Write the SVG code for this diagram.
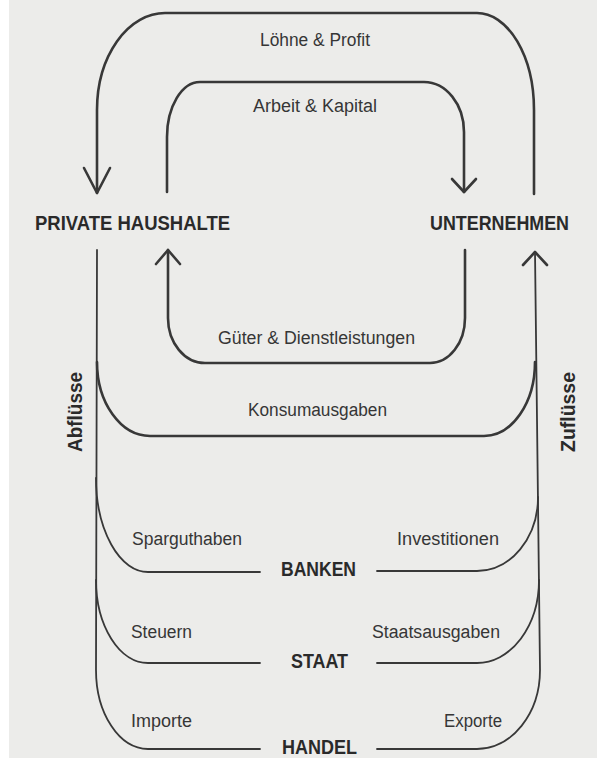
<svg xmlns="http://www.w3.org/2000/svg" width="597" height="758" viewBox="0 0 597 758">
  <style>
    .bg { fill: #ececea; }
    .flow { fill: none; stroke: #383838; stroke-width: 2.6; stroke-linecap: round; stroke-linejoin: round; }
    .thin { fill: none; stroke: #383838; stroke-width: 1.8; stroke-linecap: round; stroke-linejoin: round; }
    .lbl { font-family: "Liberation Sans", Arial, sans-serif; font-size: 18px; fill: #363636; }
    .node { font-family: "Liberation Sans", Arial, sans-serif; font-size: 21px; font-weight: bold; fill: #2a2a2a; }
    .side { font-family: "Liberation Sans", Arial, sans-serif; font-size: 21px; font-weight: bold; fill: #2a2a2a; }
  </style>
  <rect x="0" y="0" width="597" height="758" fill="#ffffff"/>
  <rect class="bg" x="9" y="0" width="588" height="758"/>

  <g id="connectors">
    <!-- Löhne & Profit: Unternehmen -> Private Haushalte -->
    <path class="flow" d="M 534 194 V 110 A 57 97 0 0 0 477 13 H 165 A 68 97 0 0 0 97 110 V 193"/>
    <polyline class="flow" points="84,168 97,193 110,168"/>
    <!-- Arbeit & Kapital: Private Haushalte -> Unternehmen -->
    <path class="flow" d="M 167 192 V 137 A 33 55 0 0 1 200 82 H 424 A 40 50 0 0 1 464 132 V 192"/>
    <polyline class="flow" points="452,179 464,192 476,179"/>
    <!-- Güter & Dienstleistungen: Unternehmen -> Private Haushalte -->
    <path class="flow" d="M 465 250 V 318 A 35 45 0 0 1 430 363 H 205 A 37 45 0 0 1 168 318 V 250"/>
    <polyline class="flow" points="156,264 168,250 180,264"/>
    <!-- Abflüsse: left trunk and Importe -->
    <path class="thin" d="M 97 250 L 96 670 A 52 79 0 0 0 148 749 H 260"/>
    <!-- Konsumausgaben -->
    <path class="flow" d="M 97 362 A 53 74 0 0 0 150 436 H 484 A 51 74 0 0 0 535 362"/>
    <!-- Sparguthaben -->
    <path class="thin" d="M 96 478 A 52 94 0 0 0 148 572 H 260"/>
    <!-- Steuern -->
    <path class="thin" d="M 96 580 A 52 83 0 0 0 148 663 H 260"/>
    <!-- Zuflüsse: right trunk and Exporte -->
    <path class="thin" d="M 535 252 L 540 670 A 63 79 0 0 1 477 749 H 377"/>
    <polyline class="flow" points="523,265 535,252 547,265"/>
    <!-- Investitionen -->
    <path class="thin" d="M 377 571 H 477 A 61 74 0 0 0 538 497"/>
    <!-- Staatsausgaben -->
    <path class="thin" d="M 377 663 H 477 A 62 83 0 0 0 539 580"/>

    <text class="lbl" x="260" y="46" textLength="110" lengthAdjust="spacingAndGlyphs">Löhne &amp; Profit</text>
    <text class="lbl" x="253" y="112" textLength="124" lengthAdjust="spacingAndGlyphs">Arbeit &amp; Kapital</text>
    <text class="lbl" x="218" y="344" textLength="197" lengthAdjust="spacingAndGlyphs">Güter &amp; Dienstleistungen</text>
    <text class="lbl" x="248" y="416" textLength="139" lengthAdjust="spacingAndGlyphs">Konsumausgaben</text>
    <text class="lbl" x="132" y="545" textLength="110" lengthAdjust="spacingAndGlyphs">Sparguthaben</text>
    <text class="lbl" x="131" y="638" textLength="61" lengthAdjust="spacingAndGlyphs">Steuern</text>
    <text class="lbl" x="131" y="727" textLength="61" lengthAdjust="spacingAndGlyphs">Importe</text>
    <text class="lbl" x="397" y="545" textLength="102" lengthAdjust="spacingAndGlyphs">Investitionen</text>
    <text class="lbl" x="372" y="638" textLength="128" lengthAdjust="spacingAndGlyphs">Staatsausgaben</text>
    <text class="lbl" x="444" y="727" textLength="58" lengthAdjust="spacingAndGlyphs">Exporte</text>
    <text class="side" transform="translate(81.5,452) rotate(-90)" x="0" y="0" textLength="80" lengthAdjust="spacingAndGlyphs">Abflüsse</text>
    <text class="side" transform="translate(575,452) rotate(-90)" x="0" y="0" textLength="80" lengthAdjust="spacingAndGlyphs">Zuflüsse</text>
  </g>

  <g id="private-haushalte">
    <text class="node" x="35" y="230" textLength="195" lengthAdjust="spacingAndGlyphs">PRIVATE HAUSHALTE</text>
  </g>
  <g id="unternehmen">
    <text class="node" x="430" y="230" textLength="139" lengthAdjust="spacingAndGlyphs">UNTERNEHMEN</text>
  </g>
  <g id="banken">
    <text class="node" x="281" y="576" textLength="75" lengthAdjust="spacingAndGlyphs">BANKEN</text>
  </g>
  <g id="staat">
    <text class="node" x="291" y="668" textLength="57" lengthAdjust="spacingAndGlyphs">STAAT</text>
  </g>
  <g id="handel">
    <text class="node" x="282" y="754" textLength="75" lengthAdjust="spacingAndGlyphs">HANDEL</text>
  </g>
</svg>
